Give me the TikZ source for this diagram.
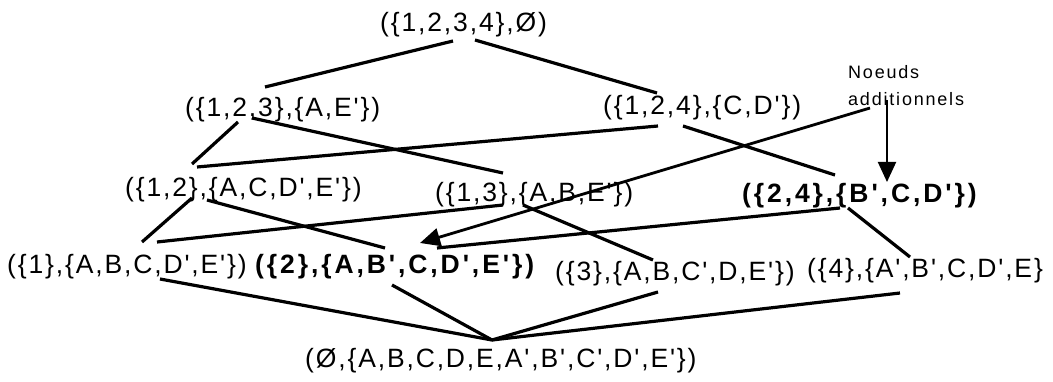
\documentclass[tikz,border=0pt]{standalone}
\usepackage{fontspec}
\setmainfont{Liberation Sans}[LetterSpace=7,Ligatures=TeXOff]
\newfontfamily\boldfam{Liberation Sans}[LetterSpace=11,Ligatures=TeXOff]
\newfontfamily\notefam{Liberation Sans}[LetterSpace=10,Ligatures=TeXOff]
\usetikzlibrary{arrows.meta}
\begin{document}
\begin{tikzpicture}[x=1pt,y=-1pt,
  lbl/.style={inner sep=0, anchor=base west, font=\fontsize{26.5}{30}\selectfont},
  blbl/.style={inner sep=0, anchor=base west, font=\boldfam\bfseries\fontsize{26.5}{30}\selectfont},
  notelbl/.style={inner sep=0, anchor=north west, align=left, font=\notefam\fontsize{18}{27}\selectfont},
  edge/.style={line width=3.2pt},
  pointer/.style={line width=2.8pt, -{Triangle[length=20pt,width=18pt]}},
  vpointer/.style={line width=2pt, -{Triangle[length=20pt,width=18pt]}}]
\useasboundingbox (0,0) rectangle (1053,382);
\node[lbl]  (top)  at (380,32)  {(\{1,2,3,4\},Ø)};
\node[lbl]  (n123) at (185,117) {(\{1,2,3\},\{A,E'\})};
\node[lbl]  (n124) at (603,115) {(\{1,2,4\},\{C,D'\})};
\node[lbl]  (n12)  at (125,197) {(\{1,2\},\{A,C,D',E'\})};
\node[lbl]  (n13)  at (435,202) {(\{1,3\},\{A,B,E'\})};
\node[blbl] (n24)  at (742,203) {(\{2,4\},\{B',C,D'\})};
\node[lbl]  (n1)   at (7,274)   {(\{1\},\{A,B,C,D',E'\})};
\node[blbl] (n2)   at (255,274) {(\{2\},\{A,B',C,D',E'\})};
\node[lbl]  (n3)   at (555,281) {(\{3\},\{A,B,C',D,E'\})};
\node[lbl]  (n4)   at (807,278) {(\{4\},\{A',B',C,D',E\}};
\node[lbl]  (bot)  at (305,367) {(Ø,\{A,B,C,D,E,A',B',C',D',E'\})};
\node[notelbl] (note) at (848,65) {Noeuds\\additionnels};

\draw[edge] ([shift={(73,9)}]top.base west) -- ([shift={(80,-30)}]n123.base west);
\draw[edge] ([shift={(95,8)}]top.base west) -- ([shift={(54,-22)}]n124.base west);
\draw[edge] ([shift={(53,5)}]n123.base west) -- ([shift={(67,-33)}]n12.base west);
\draw[edge] ([shift={(67,1)}]n123.base west) -- ([shift={(68,-29)}]n13.base west);
\draw[edge] ([shift={(55,11)}]n124.base west) -- ([shift={(72,-30)}]n12.base west);
\draw[edge] ([shift={(80,11)}]n124.base west) -- ([shift={(93,-28)}]n24.base west);
\draw[edge] ([shift={(67,1)}]n12.base west) -- ([shift={(135,-32)}]n1.base west);
\draw[edge] ([shift={(82,3)}]n12.base west) -- ([shift={(130,-26)}]n2.base west);
\draw[edge] ([shift={(68,3)}]n13.base west) -- ([shift={(150,-32)}]n1.base west);
\draw[edge] ([shift={(88,3)}]n13.base west) -- ([shift={(98,-21)}]n3.base west);
\draw[edge] ([shift={(98,5)}]n24.base west) -- ([shift={(182,-26)}]n2.base west);
\draw[edge] ([shift={(106,5)}]n24.base west) -- ([shift={(103,-21)}]n4.base west);
\draw[edge] ([shift={(153,5)}]n1.base west) -- ([shift={(187,-27)}]bot.base west);
\draw[edge] ([shift={(137,11)}]n2.base west) -- ([shift={(187,-27)}]bot.base west);
\draw[edge] ([shift={(103,11)}]n3.base west) -- ([shift={(187,-27)}]bot.base west);
\draw[edge] ([shift={(93,15)}]n4.base west) -- ([shift={(187,-27)}]bot.base west);
\draw[pointer] ([shift={(22,43)}]note.north west) -- ([shift={(165,-31)}]n2.base west);
\draw[vpointer] ([shift={(39,35)}]note.north west) -- ([shift={(145,-21)}]n24.base west);
\end{tikzpicture}
\end{document}
